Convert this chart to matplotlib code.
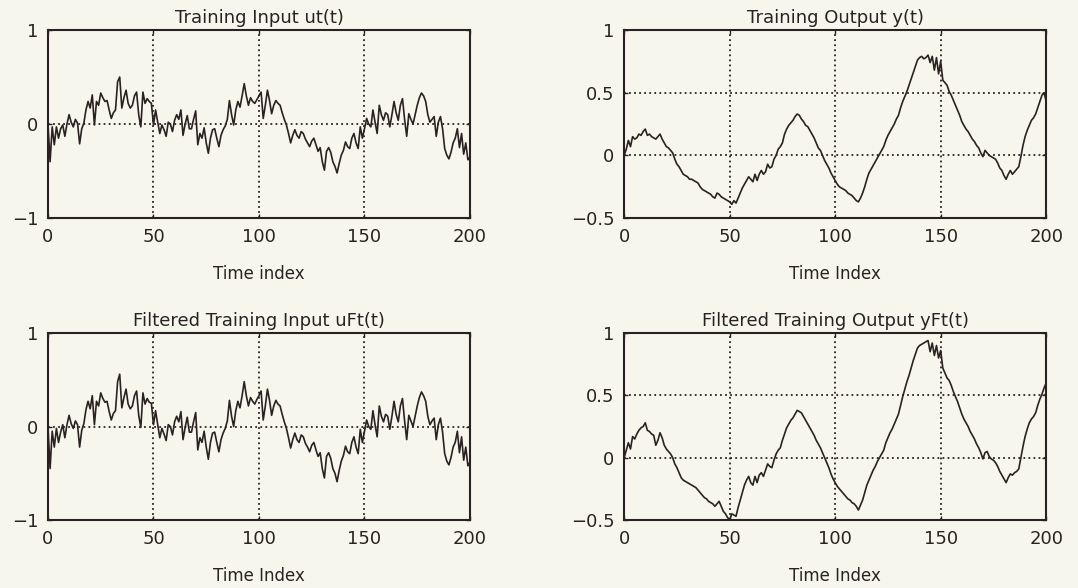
import numpy as np
import matplotlib.pyplot as plt

# time index 0..200
t = np.arange(201)

# training input ut(t)
ut = [0.00, -0.40, -0.03, -0.22, -0.03, -0.15, -0.05, -0.01, -0.13, 0.00,
      0.10, 0.02, -0.03, 0.05, 0.01, -0.21, -0.05, 0.01, 0.15, 0.24,
      0.17, 0.31, -0.01, 0.24, 0.20, 0.33, 0.28, 0.24, 0.25, 0.15,
      0.06, 0.12, 0.15, 0.45, 0.50, 0.17, 0.28, 0.36, 0.22, 0.17,
      0.20, 0.30, 0.34, 0.10, -0.03, 0.34, 0.22, 0.27, 0.24, 0.22,
      -0.01, 0.15, 0.02, -0.10, -0.01, -0.06, -0.13, 0.02, 0.00, -0.08,
      0.04, 0.10, 0.05, 0.15, -0.12, 0.00, 0.09, -0.05, -0.05, 0.05,
      0.14, -0.22, -0.10, -0.15, -0.04, -0.20, -0.31, -0.15, -0.06, -0.05,
      -0.15, -0.24, -0.12, -0.06, -0.02, 0.05, 0.25, 0.10, -0.01, 0.15,
      0.24, 0.18, 0.30, 0.43, 0.30, 0.20, 0.28, 0.24, 0.22, 0.26,
      0.30, 0.34, 0.06, 0.20, 0.36, 0.25, 0.11, 0.20, 0.25, 0.22,
      0.20, 0.12, 0.05, -0.01, -0.10, -0.20, -0.12, -0.06, -0.12, -0.15,
      -0.08, -0.10, -0.16, -0.20, -0.24, -0.18, -0.15, -0.22, -0.29, -0.25,
      -0.40, -0.49, -0.29, -0.25, -0.30, -0.40, -0.45, -0.52, -0.42, -0.33,
      -0.28, -0.19, -0.24, -0.26, -0.15, -0.10, -0.20, -0.26, -0.03, -0.15,
      -0.05, 0.06, 0.00, -0.03, 0.15, 0.02, -0.10, 0.20, 0.10, 0.04,
      0.12, 0.10, -0.03, 0.10, 0.24, 0.12, 0.04, 0.20, 0.27, 0.05,
      -0.13, 0.11, 0.05, 0.00, 0.10, 0.20, 0.28, 0.33, 0.30, 0.24,
      0.10, 0.02, 0.05, 0.08, -0.13, 0.02, 0.08, -0.05, -0.26, -0.33,
      -0.37, -0.30, -0.20, -0.15, -0.05, -0.25, -0.10, -0.32, -0.20, -0.38,
      -0.35]

# training output y(t)
yt = [0.00, 0.05, 0.12, 0.07, 0.15, 0.13, 0.14, 0.17, 0.16, 0.19,
      0.21, 0.16, 0.17, 0.15, 0.14, 0.13, 0.15, 0.17, 0.13, 0.10,
      0.07, 0.06, 0.04, 0.02, -0.03, -0.07, -0.09, -0.12, -0.15, -0.16,
      -0.17, -0.19, -0.19, -0.20, -0.21, -0.22, -0.25, -0.27, -0.28, -0.29,
      -0.30, -0.31, -0.33, -0.34, -0.30, -0.31, -0.33, -0.34, -0.35, -0.36,
      -0.37, -0.39, -0.36, -0.38, -0.34, -0.30, -0.26, -0.23, -0.20, -0.17,
      -0.19, -0.21, -0.15, -0.20, -0.15, -0.12, -0.15, -0.13, -0.07, -0.10,
      -0.09, -0.03, 0.00, 0.05, 0.07, 0.10, 0.17, 0.21, 0.24, 0.26,
      0.28, 0.31, 0.33, 0.32, 0.29, 0.27, 0.24, 0.23, 0.20, 0.17,
      0.14, 0.10, 0.06, 0.04, 0.00, -0.04, -0.07, -0.10, -0.14, -0.17,
      -0.20, -0.23, -0.25, -0.26, -0.27, -0.28, -0.30, -0.31, -0.32, -0.34,
      -0.36, -0.37, -0.34, -0.30, -0.25, -0.19, -0.14, -0.11, -0.08, -0.05,
      -0.02, 0.01, 0.04, 0.07, 0.12, 0.16, 0.19, 0.22, 0.25, 0.29,
      0.32, 0.38, 0.43, 0.47, 0.51, 0.56, 0.61, 0.66, 0.71, 0.76,
      0.78, 0.79, 0.77, 0.78, 0.80, 0.74, 0.79, 0.68, 0.78, 0.65,
      0.75, 0.60, 0.58, 0.56, 0.51, 0.48, 0.44, 0.40, 0.36, 0.32,
      0.27, 0.24, 0.21, 0.19, 0.16, 0.13, 0.11, 0.08, 0.06, 0.02,
      -0.01, 0.04, 0.02, 0.00, -0.01, -0.02, -0.03, -0.06, -0.10, -0.12,
      -0.16, -0.19, -0.15, -0.12, -0.15, -0.13, -0.11, -0.09, -0.01, 0.08,
      0.15, 0.20, 0.24, 0.28, 0.30, 0.33, 0.38, 0.43, 0.48, 0.50,
      0.43]

# filtered training input uFt(t)
uft = [0.00, -0.45, -0.05, -0.22, -0.02, -0.17, -0.06, 0.02, -0.12, 0.02,
       0.12, 0.03, -0.02, 0.06, 0.02, -0.22, -0.04, 0.03, 0.18, 0.27,
       0.19, 0.33, 0.02, 0.27, 0.22, 0.36, 0.30, 0.26, 0.27, 0.16,
       0.07, 0.14, 0.17, 0.48, 0.56, 0.20, 0.31, 0.40, 0.24, 0.19,
       0.22, 0.33, 0.38, 0.12, -0.01, 0.36, 0.24, 0.30, 0.26, 0.25,
       0.02, 0.17, 0.02, -0.12, -0.02, -0.08, -0.15, 0.02, 0.00, -0.09,
       0.05, 0.11, 0.05, 0.16, -0.14, -0.01, 0.10, -0.06, -0.06, 0.05,
       0.15, -0.25, -0.12, -0.17, -0.05, -0.22, -0.35, -0.17, -0.07, -0.06,
       -0.17, -0.27, -0.14, -0.07, -0.02, 0.06, 0.28, 0.11, 0.00, 0.17,
       0.27, 0.20, 0.33, 0.48, 0.33, 0.22, 0.31, 0.27, 0.24, 0.29,
       0.33, 0.38, 0.07, 0.22, 0.40, 0.28, 0.12, 0.22, 0.28, 0.24,
       0.22, 0.13, 0.05, -0.02, -0.12, -0.23, -0.14, -0.07, -0.14, -0.17,
       -0.09, -0.11, -0.18, -0.22, -0.27, -0.20, -0.17, -0.25, -0.32, -0.28,
       -0.45, -0.55, -0.32, -0.28, -0.34, -0.45, -0.50, -0.59, -0.47, -0.37,
       -0.31, -0.21, -0.27, -0.29, -0.17, -0.11, -0.22, -0.29, -0.03, -0.17,
       -0.05, 0.07, 0.00, -0.03, 0.17, 0.02, -0.11, 0.22, 0.11, 0.05,
       0.13, 0.11, -0.03, 0.11, 0.27, 0.13, 0.05, 0.22, 0.30, 0.06,
       -0.14, 0.12, 0.06, 0.00, 0.11, 0.22, 0.31, 0.37, 0.33, 0.27,
       0.11, 0.02, 0.06, 0.09, -0.14, 0.02, 0.09, -0.06, -0.29, -0.37,
       -0.41, -0.33, -0.22, -0.17, -0.05, -0.28, -0.11, -0.36, -0.22, -0.42,
       -0.38]

# filtered training output yFt(t)
yft = [0.00, 0.06, 0.12, 0.07, 0.17, 0.15, 0.19, 0.22, 0.24, 0.25,
       0.28, 0.22, 0.21, 0.19, 0.18, 0.10, 0.14, 0.20, 0.16, 0.10,
       0.07, 0.05, 0.03, 0.00, -0.05, -0.08, -0.12, -0.16, -0.18, -0.19,
       -0.20, -0.21, -0.22, -0.23, -0.24, -0.26, -0.28, -0.30, -0.32, -0.33,
       -0.35, -0.36, -0.37, -0.39, -0.37, -0.35, -0.39, -0.43, -0.45, -0.48,
       -0.50, -0.45, -0.46, -0.47, -0.40, -0.34, -0.28, -0.22, -0.18, -0.15,
       -0.20, -0.22, -0.15, -0.20, -0.14, -0.12, -0.15, -0.10, -0.05, -0.07,
       -0.08, -0.02, 0.03, 0.06, 0.08, 0.14, 0.19, 0.24, 0.27, 0.30,
       0.32, 0.35, 0.38, 0.37, 0.36, 0.33, 0.30, 0.27, 0.24, 0.21,
       0.18, 0.14, 0.11, 0.08, 0.04, 0.00, -0.04, -0.08, -0.13, -0.17,
       -0.20, -0.23, -0.25, -0.27, -0.29, -0.31, -0.33, -0.34, -0.36, -0.37,
       -0.39, -0.42, -0.38, -0.34, -0.28, -0.22, -0.18, -0.14, -0.10, -0.07,
       -0.03, 0.00, 0.03, 0.06, 0.12, 0.16, 0.20, 0.23, 0.27, 0.31,
       0.35, 0.42, 0.49, 0.55, 0.61, 0.66, 0.72, 0.78, 0.83, 0.88,
       0.90, 0.91, 0.92, 0.93, 0.94, 0.85, 0.92, 0.82, 0.90, 0.80,
       0.86, 0.72, 0.68, 0.64, 0.62, 0.58, 0.53, 0.49, 0.45, 0.40,
       0.35, 0.31, 0.28, 0.25, 0.21, 0.18, 0.15, 0.11, 0.08, 0.04,
       -0.01, 0.04, 0.05, 0.01, -0.01, -0.02, -0.04, -0.07, -0.11, -0.14,
       -0.17, -0.20, -0.16, -0.13, -0.14, -0.12, -0.11, -0.09, 0.00, 0.09,
       0.17, 0.23, 0.28, 0.31, 0.33, 0.36, 0.42, 0.47, 0.51, 0.56,
       0.60]

titles = ["Training Input ut(t)", "Training Output y(t)",
          "Filtered Training Input uFt(t)", "Filtered Training Output yFt(t)"]
xlabels = ["Time index", "Time Index", "Time Index", "Time Index"]
series = [ut, yt, uft, yft]
xticks = [0, 50, 100, 150, 200]
yticks_in = [-1, 0, 1]
yticks_out = [-0.5, 0, 0.5, 1]

bg = "#f7f6ec"
ink = "#2a2222"

plt.rcParams['font.family'] = 'DejaVu Sans'
fig = plt.figure(figsize=(10.78, 5.88), dpi=100, facecolor=bg)

# left, bottom, width, height
boxes = [[0.0445, 0.629, 0.3915, 0.320],
         [0.579, 0.629, 0.3915, 0.320],
         [0.0445, 0.1156, 0.3915, 0.318],
         [0.579, 0.1156, 0.3915, 0.318]]

for i in range(4):
    ax = fig.add_axes(boxes[i])
    ax.set_facecolor(bg)
    ax.plot(t, series[i], color=ink, lw=1.2)
    ax.set_xlim(0, 200)
    ax.set_xticks(xticks)
    if i % 2 == 0:
        ax.set_ylim(-1, 1)
        ax.set_yticks(yticks_in)
        ax.set_yticklabels(["\u22121", "0", "1"])
    else:
        ax.set_ylim(-0.5, 1)
        ax.set_yticks(yticks_out)
        ax.set_yticklabels(["\u22120.5", "0", "0.5", "1"])
    ax.grid(True, color=ink, linestyle=(0, (1, 1.8)), linewidth=1.3)
    ax.tick_params(direction='in', length=3, width=1, colors=ink,
                   labelsize=13, top=True, right=True, pad=7)
    for s in ax.spines.values():
        s.set_color(ink)
        s.set_linewidth(1.5)
    ax.set_title(titles[i], fontsize=13, color=ink, pad=5)
    ax.set_xlabel(xlabels[i], fontsize=12, color=ink, labelpad=14)

plt.savefig("out.png", dpi=100, facecolor=bg)
